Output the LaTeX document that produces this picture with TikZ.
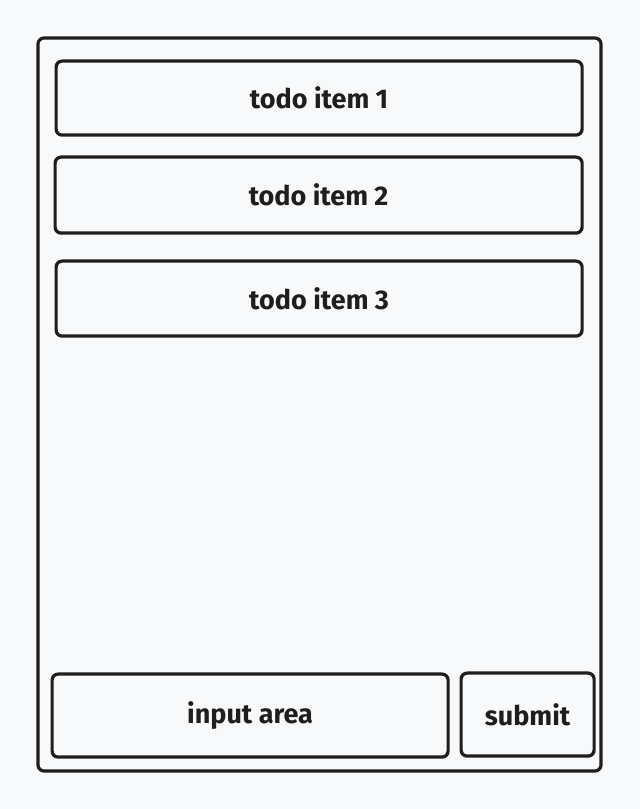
\documentclass[tikz,border=0pt]{standalone}
\usepackage{fontspec}
\setmainfont{Fira Sans}
\definecolor{bg}{HTML}{F8F9FA}
\definecolor{ink}{HTML}{1E1E1E}
\begin{document}
\begin{tikzpicture}[x=1pt,y=1pt,
  box/.style={draw=ink,line width=3.2pt,rounded corners=6pt,inner sep=0pt},
  lbl/.style={text=ink,font=\fontsize{27}{30}\selectfont\bfseries}]
\fill[bg] (0,0) rectangle (640,809);
\useasboundingbox (0,0) rectangle (640,809);
\draw[box] (38,38) rectangle (601,771);
\node[box,minimum width=526pt,minimum height=74pt,anchor=north west,lbl] (t1) at (54.5,749.5) {todo item 1};
\node[box,minimum width=527pt,minimum height=76pt,anchor=north west,lbl] (t2) at (53.5,653.5) {todo item 2};
\node[box,minimum width=526pt,minimum height=75pt,anchor=north west,lbl] (t3) at (54.5,549.5) {todo item 3};
\node[box,minimum width=396pt,minimum height=83pt,anchor=north west,lbl] (in) at (50.5,136.5) {input area};
\node[box,minimum width=133pt,minimum height=83pt,anchor=north west,lbl] (sub) at (459.5,137.5) {submit};
\end{tikzpicture}
\end{document}
